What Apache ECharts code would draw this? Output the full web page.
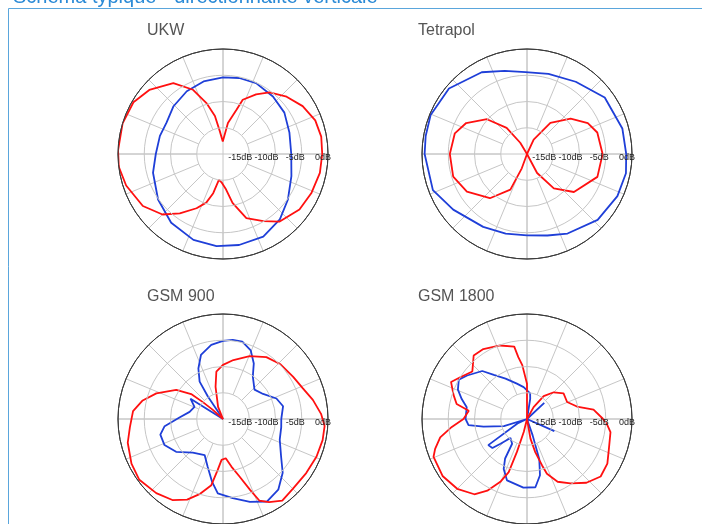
<!DOCTYPE html>
<html><head><meta charset="utf-8">
<script src="https://cdn.jsdelivr.net/npm/echarts@6/dist/echarts.min.js"></script>
<style>html,body{margin:0;padding:0;background:#fff}#c{width:702px;height:524px}</style>
</head><body><div id="c"></div><script>
const pageTitle = 'Schéma typique - directionnalité verticale';
const chartTitles = ['UKW', 'Tetrapol', 'GSM 900', 'GSM 1800'];
const dbTicks = [-20, -15, -10, -5, 0];
const dbTickLabels = ['', '-15dB', '-10dB', '-5dB', '0dB'];

// UKW
const ukwBlueAng = [0, 18, 34, 49, 65, 78, 90, 105, 120, 136, 151, 164, 180, 195, 215, 233, 251, 266, 280, 296, 311, 325, 342];
const ukwBlueDb  = [-7.0, -6.7, -5.9, -5.5, -5.1, -5.2, -5.4, -5.7, -6.2, -6.9, -7.7, -7.5, -7.2, -6.2, -4.9, -3.6, -2.7, -2.4, -2.4, -2.5, -3.5, -4.9, -6.3];
const ukwRedAng = [0, 10, 20, 31, 42, 53, 61, 70, 73, 81, 91, 98, 102, 108, 115, 125, 139, 150, 163, 178, 187, 198, 213, 225, 234, 244, 251, 256, 261, 267, 275, 281, 290, 301, 310, 324, 336, 349];
const ukwRedDb  = [-1.1, -1.0, -1.3, -2.3, -3.7, -5.3, -7.0, -9.0, -11.2, -14.0, -17.6, -15.6, -12.6, -9.8, -6.5, -3.5, -1.4, -0.3, 0, 0, 0, -0.6, -1.8, -3.7, -6.0, -8.5, -10.2, -12.3, -15.0, -14.6, -13.2, -10.5, -7.0, -5.1, -3.2, -2.0, -1.6, -1.2];

// Tetrapol
const tetBlueAng = [0, 15, 36, 56, 75, 91, 105, 119, 140, 158, 170, 180, 201, 217, 239, 255, 270, 284, 297, 317, 335, 349];
const tetBlueDb  = [-1.1, -1.2, -1.7, -3.4, -4.2, -4.4, -3.6, -2.2, -0.6, -0.2, -0.4, -0.5, -0.8, -2.4, -3.8, -4.3, -4.5, -4.0, -3.0, -1.6, -1.0, -0.8];
const tetRedAng = [0, 17, 27, 39, 53, 65, 90, 121, 128, 139, 153, 164, 180, 197, 212, 230, 245, 250, 270, 298, 308, 321, 342];
const tetRedDb  = [-5.6, -6.0, -7.0, -9.3, -12.6, -17.0, -20, -17.5, -13.7, -9.9, -7.0, -5.7, -5.3, -5.3, -6.5, -9.0, -12.5, -17.1, -20, -15.9, -11.7, -8.5, -5.9];

// GSM 900
const g9BlueAng = [0, 12, 21, 32, 43, 55, 61, 68, 76, 83, 90, 99, 109, 116, 122, 124, 128, 148, 157, 168, 178, 187, 194, 204, 215, 228, 243, 252, 260, 266, 277, 288, 298, 308, 318, 327, 340, 352];
const g9BlueDb  = [-8.9, -8.3, -9.1, -11.0, -11.8, -10.1, -7.9, -5.9, -4.8, -4.8, -5.1, -5.7, -7.1, -9.3, -11.6, -14.9, -20, -12.7, -14.1, -13.5, -11.7, -8.8, -7.7, -7.8, -9.1, -11.4, -12.3, -10.5, -7.9, -5.8, -4.8, -3.4, -2.2, -2.9, -4.7, -6.8, -8.5, -8.8];
const g9RedAng = [3, 12, 21, 31, 44, 55, 67, 80, 90, 98, 103, 112, 125, 138, 140, 142, 148, 159, 167, 175, 185, 194, 206, 216, 228, 238, 246, 253, 260, 264, 268, 274, 280, 286, 291, 294, 299, 306, 315, 327, 338, 348, 356];
const g9RedDb  = [-1.3, -2.5, -3.7, -4.4, -4.9, -5.6, -7.0, -8.6, -9.7, -10.9, -13.7, -17.5, -20, -17.4, -15.0, -12.3, -9.5, -6.4, -4.3, -2.8, -2.2, -1.3, -0.6, -0.3, -1.0, -1.8, -3.2, -5.1, -7.2, -10.2, -12.2, -12.5, -10.8, -8.6, -5.5, -3.0, -1.9, -0.8, -1.2, -1.1, -0.8, -0.6, -0.6];

// GSM 1800
const g18BlueAng = [33, 43, 50, 78, 81, 83, 96, 106, 118, 127, 133, 144, 150, 157, 163, 169, 180, 186, 190, 197, 201, 205, 214, 220, 223, 229, 239, 241, 245, 252, 267, 277, 283, 287, 289, 292, 325, 336, 342];
const g18BlueDb  = [-20, -15.5, -20, -20, -16.1, -15.1, -13.9, -13.0, -11.3, -9.5, -7.5, -5.9, -5.0, -5.7, -7.0, -8.3, -8.3, -8.8, -11.6, -15.4, -20, -18, -11.1, -11.4, -13.1, -15.2, -14.5, -11.4, -9.5, -7.7, -6.9, -6.9, -9.0, -12.0, -16.7, -20, -20, -14.3, -20];
const g18RedAng = [0, 8, 14, 23, 35, 45, 54, 61, 75, 88, 90, 95, 98, 100, 110, 122, 130, 139, 148, 154, 162, 168, 172, 180, 186, 192, 198, 202, 214, 225, 235, 241, 247, 251, 253, 256, 265, 280, 284, 288, 290, 296, 304, 313, 322, 331, 340, 351, 356];
const g18RedDb  = [-5.5, -7.2, -10.2, -11.7, -11.5, -12.8, -14.6, -17.4, -20, -20, -13.3, -9.7, -8.1, -6.0, -5.1, -4.3, -4.2, -6.2, -5.0, -3.9, -5.3, -6.3, -8.8, -7.9, -5.6, -3.1, -1.6, -0.8, -0.6, -1.2, -2.5, -4.4, -7.0, -9.3, -13.5, -17.5, -20, -16.2, -13.5, -10.7, -8.9, -6.7, -5.2, -3.4, -2.2, -2.5, -3.4, -3.9, -4.7];

const blueSeries = [[ukwBlueAng, ukwBlueDb], [tetBlueAng, tetBlueDb], [g9BlueAng, g9BlueDb], [g18BlueAng, g18BlueDb]];
const redSeries  = [[ukwRedAng, ukwRedDb], [tetRedAng, tetRedDb], [g9RedAng, g9RedDb], [g18RedAng, g18RedDb]];

const R = 105;
const centers = [[223, 154], [527, 154], [223, 419], [527, 419]];
const titlePos = [[147, 23], [418, 23], [147, 289], [418, 289]];
const gridColor = '#c6c6c6';
const rimColor = '#3a3a3a';

function toData(ang, db) {
  const d = ang.map((a, i) => [db[i], a]);
  d.push([db[0], ang[0]]);
  return d;
}

const polar = [], angleAxis = [], radiusAxis = [], series = [], title = [];
centers.forEach((c, i) => {
  polar.push({ center: c, radius: [0, R] });
  polar.push({ center: c, radius: [R / 4, R] });
  angleAxis.push({
    polarIndex: 2 * i, type: 'value', min: 0, max: 360, interval: 90, startAngle: 0, clockwise: false,
    axisLine: { show: true, lineStyle: { color: rimColor, width: 1 } },
    axisTick: { show: false }, axisLabel: { show: false },
    splitLine: { show: true, lineStyle: { color: gridColor, width: 1 } }
  });
  angleAxis.push({
    polarIndex: 2 * i + 1, type: 'value', min: 0, max: 360, interval: 22.5, startAngle: 0, clockwise: false,
    axisLine: { show: false }, axisTick: { show: false }, axisLabel: { show: false },
    splitLine: { show: true, lineStyle: { color: gridColor, width: 1 } }
  });
  radiusAxis.push({
    polarIndex: 2 * i, type: 'value', min: dbTicks[0], max: dbTicks[dbTicks.length - 1], interval: 5,
    axisLine: { show: false }, axisTick: { show: false },
    axisLabel: {
      show: true, fontSize: 9, color: '#222', fontFamily: 'Liberation Sans, Arial, sans-serif',
      margin: 1, align: 'right', verticalAlign: 'top', padding: [0, -3, 0, 0],
      formatter: v => dbTickLabels[dbTicks.indexOf(v)] || ''
    },
    splitLine: { show: true, lineStyle: { color: [gridColor, gridColor, gridColor, gridColor, rimColor], width: 1 } },
    z: 5
  });
  radiusAxis.push({ polarIndex: 2 * i + 1, type: 'value', min: 0, max: 1, show: false });
  series.push({
    type: 'line', coordinateSystem: 'polar', polarIndex: 2 * i, data: toData(blueSeries[i][0], blueSeries[i][1]),
    showSymbol: false, symbol: 'none', silent: true, lineStyle: { color: '#1f3fd8', width: 1.8 }, z: 3
  });
  series.push({
    type: 'line', coordinateSystem: 'polar', polarIndex: 2 * i, data: toData(redSeries[i][0], redSeries[i][1]),
    showSymbol: false, symbol: 'none', silent: true, lineStyle: { color: '#ff1010', width: 1.8 }, z: 4
  });
  title.push({
    text: chartTitles[i], left: titlePos[i][0], top: titlePos[i][1], padding: 0,
    textStyle: { fontSize: 16, fontWeight: 'normal', color: '#555', fontFamily: 'Liberation Sans, Arial, sans-serif' }
  });
});

const chart = echarts.init(document.getElementById('c'), null, { renderer: 'canvas' });
chart.setOption({
  animation: false,
  backgroundColor: '#fff',
  title, polar, angleAxis, radiusAxis, series,
  graphic: [
    { type: 'rect', shape: { x: 8.5, y: 8.5, width: 800, height: 600 }, style: { fill: 'none', stroke: '#5aa6dc', lineWidth: 1 }, silent: true },
    { type: 'text', x: 13, y: 7, style: { text: pageTitle, fill: '#2a8ad6', fontSize: 20, fontFamily: 'Liberation Sans, Arial, sans-serif', verticalAlign: 'bottom' }, silent: true }
  ]
});
</script></body></html>
